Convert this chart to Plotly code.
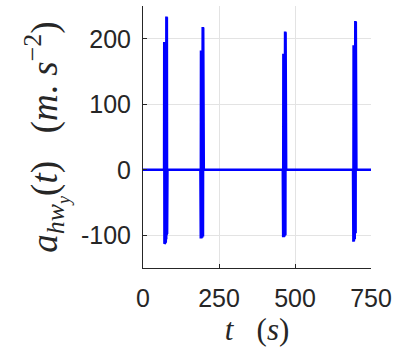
import plotly.graph_objects as go

# burst samples (time in s, acceleration in m/s^2)
burst1_t = [70.0, 70.7, 71.4, 72.1, 72.8, 73.5, 74.2, 74.9, 75.6, 76.3, 77.0, 77.7, 78.4, 79.1, 79.8]
burst1_a = [195, -113, 195, -112, 194, -111, 194, -110, 195, -106, 234, -100, 233, -98, 232]
burst2_t = [189.5, 190.2, 190.9, 191.6, 192.3, 193.0, 193.7, 194.4, 195.1, 195.8, 196.5, 197.2, 197.9, 198.6, 199.3]
burst2_a = [182, -105, 182, -105, 181, -104, 182, -104, 182, -103, 218, -102, 217, -101, 216]
burst3_t = [460.5, 461.2, 461.9, 462.6, 463.3, 464.0, 464.7, 465.4, 466.1, 466.8, 467.5, 468.2, 468.9, 469.6, 470.3]
burst3_a = [177, -103, 177, -103, 176, -102, 177, -102, 177, -101, 211, -100, 210, -99, 209]
burst4_t = [691.5, 692.2, 692.9, 693.6, 694.3, 695.0, 695.7, 696.4, 697.1, 697.8, 698.5, 699.2, 699.9, 700.6, 701.3]
burst4_a = [190, -110, 190, -109, 189, -108, 190, -106, 190, -100, 227, -97, 226, -95, 225]

quiet_t = [0, 69.5, 80.3, 189.0, 199.8, 460.0, 470.8, 691.0, 701.8, 750]

t = ([quiet_t[0], quiet_t[1]] + burst1_t + [quiet_t[2], quiet_t[3]] + burst2_t +
     [quiet_t[4], quiet_t[5]] + burst3_t + [quiet_t[6], quiet_t[7]] + burst4_t +
     [quiet_t[8], quiet_t[9]])
a = ([0, 0] + burst1_a + [0, 0] + burst2_a + [0, 0] + burst3_a + [0, 0] + burst4_a + [0, 0])

x_ticks = [0, 250, 500, 750]
y_ticks = [-100, 0, 100, 200]

fig = go.Figure()
fig.add_trace(go.Scatter(x=t, y=a, mode="lines",
                         line=dict(color="#0000ff", width=2.6), showlegend=False))

axis_common = dict(
    showgrid=True, gridcolor="#e3e3e3", gridwidth=1,
    zeroline=False, showline=True, linecolor="#262626", linewidth=1,
    ticks="inside", ticklen=4, tickcolor="#262626", automargin=False,
    tickfont=dict(family="Liberation Sans, Arial, sans-serif", size=25, color="#262626"),
)

fig.update_layout(
    width=400, height=355,
    margin=dict(l=143, r=29, t=6, b=87),
    paper_bgcolor="white", plot_bgcolor="white",
    xaxis=dict(range=[0, 750], tickvals=x_ticks, ticktext=[str(v) for v in x_ticks],
               ticklabelstandoff=8,
               title=dict(text="<i>t</i>&nbsp;&nbsp;&nbsp;(<i>s</i>)", standoff=0,
                          font=dict(family="Liberation Serif, serif", size=31, color="#262626")),
               **axis_common),
    yaxis=dict(range=[-150, 250], tickvals=y_ticks, ticktext=[str(v) for v in y_ticks],
               ticklabelstandoff=6,
               title=dict(text="<i>a<sub>hw<sub>y</sub></sub></i>(<i>t</i>)&nbsp;&nbsp;&nbsp;(<i>m</i>. <i>s</i><sup>−2</sup>)",
                          standoff=12,
                          font=dict(family="Liberation Serif, serif", size=37, color="#262626")),
               **axis_common),
)

fig.write_html("out.html", config={"displayModeBar": False},
               post_script="document.body.style.margin='0';")
